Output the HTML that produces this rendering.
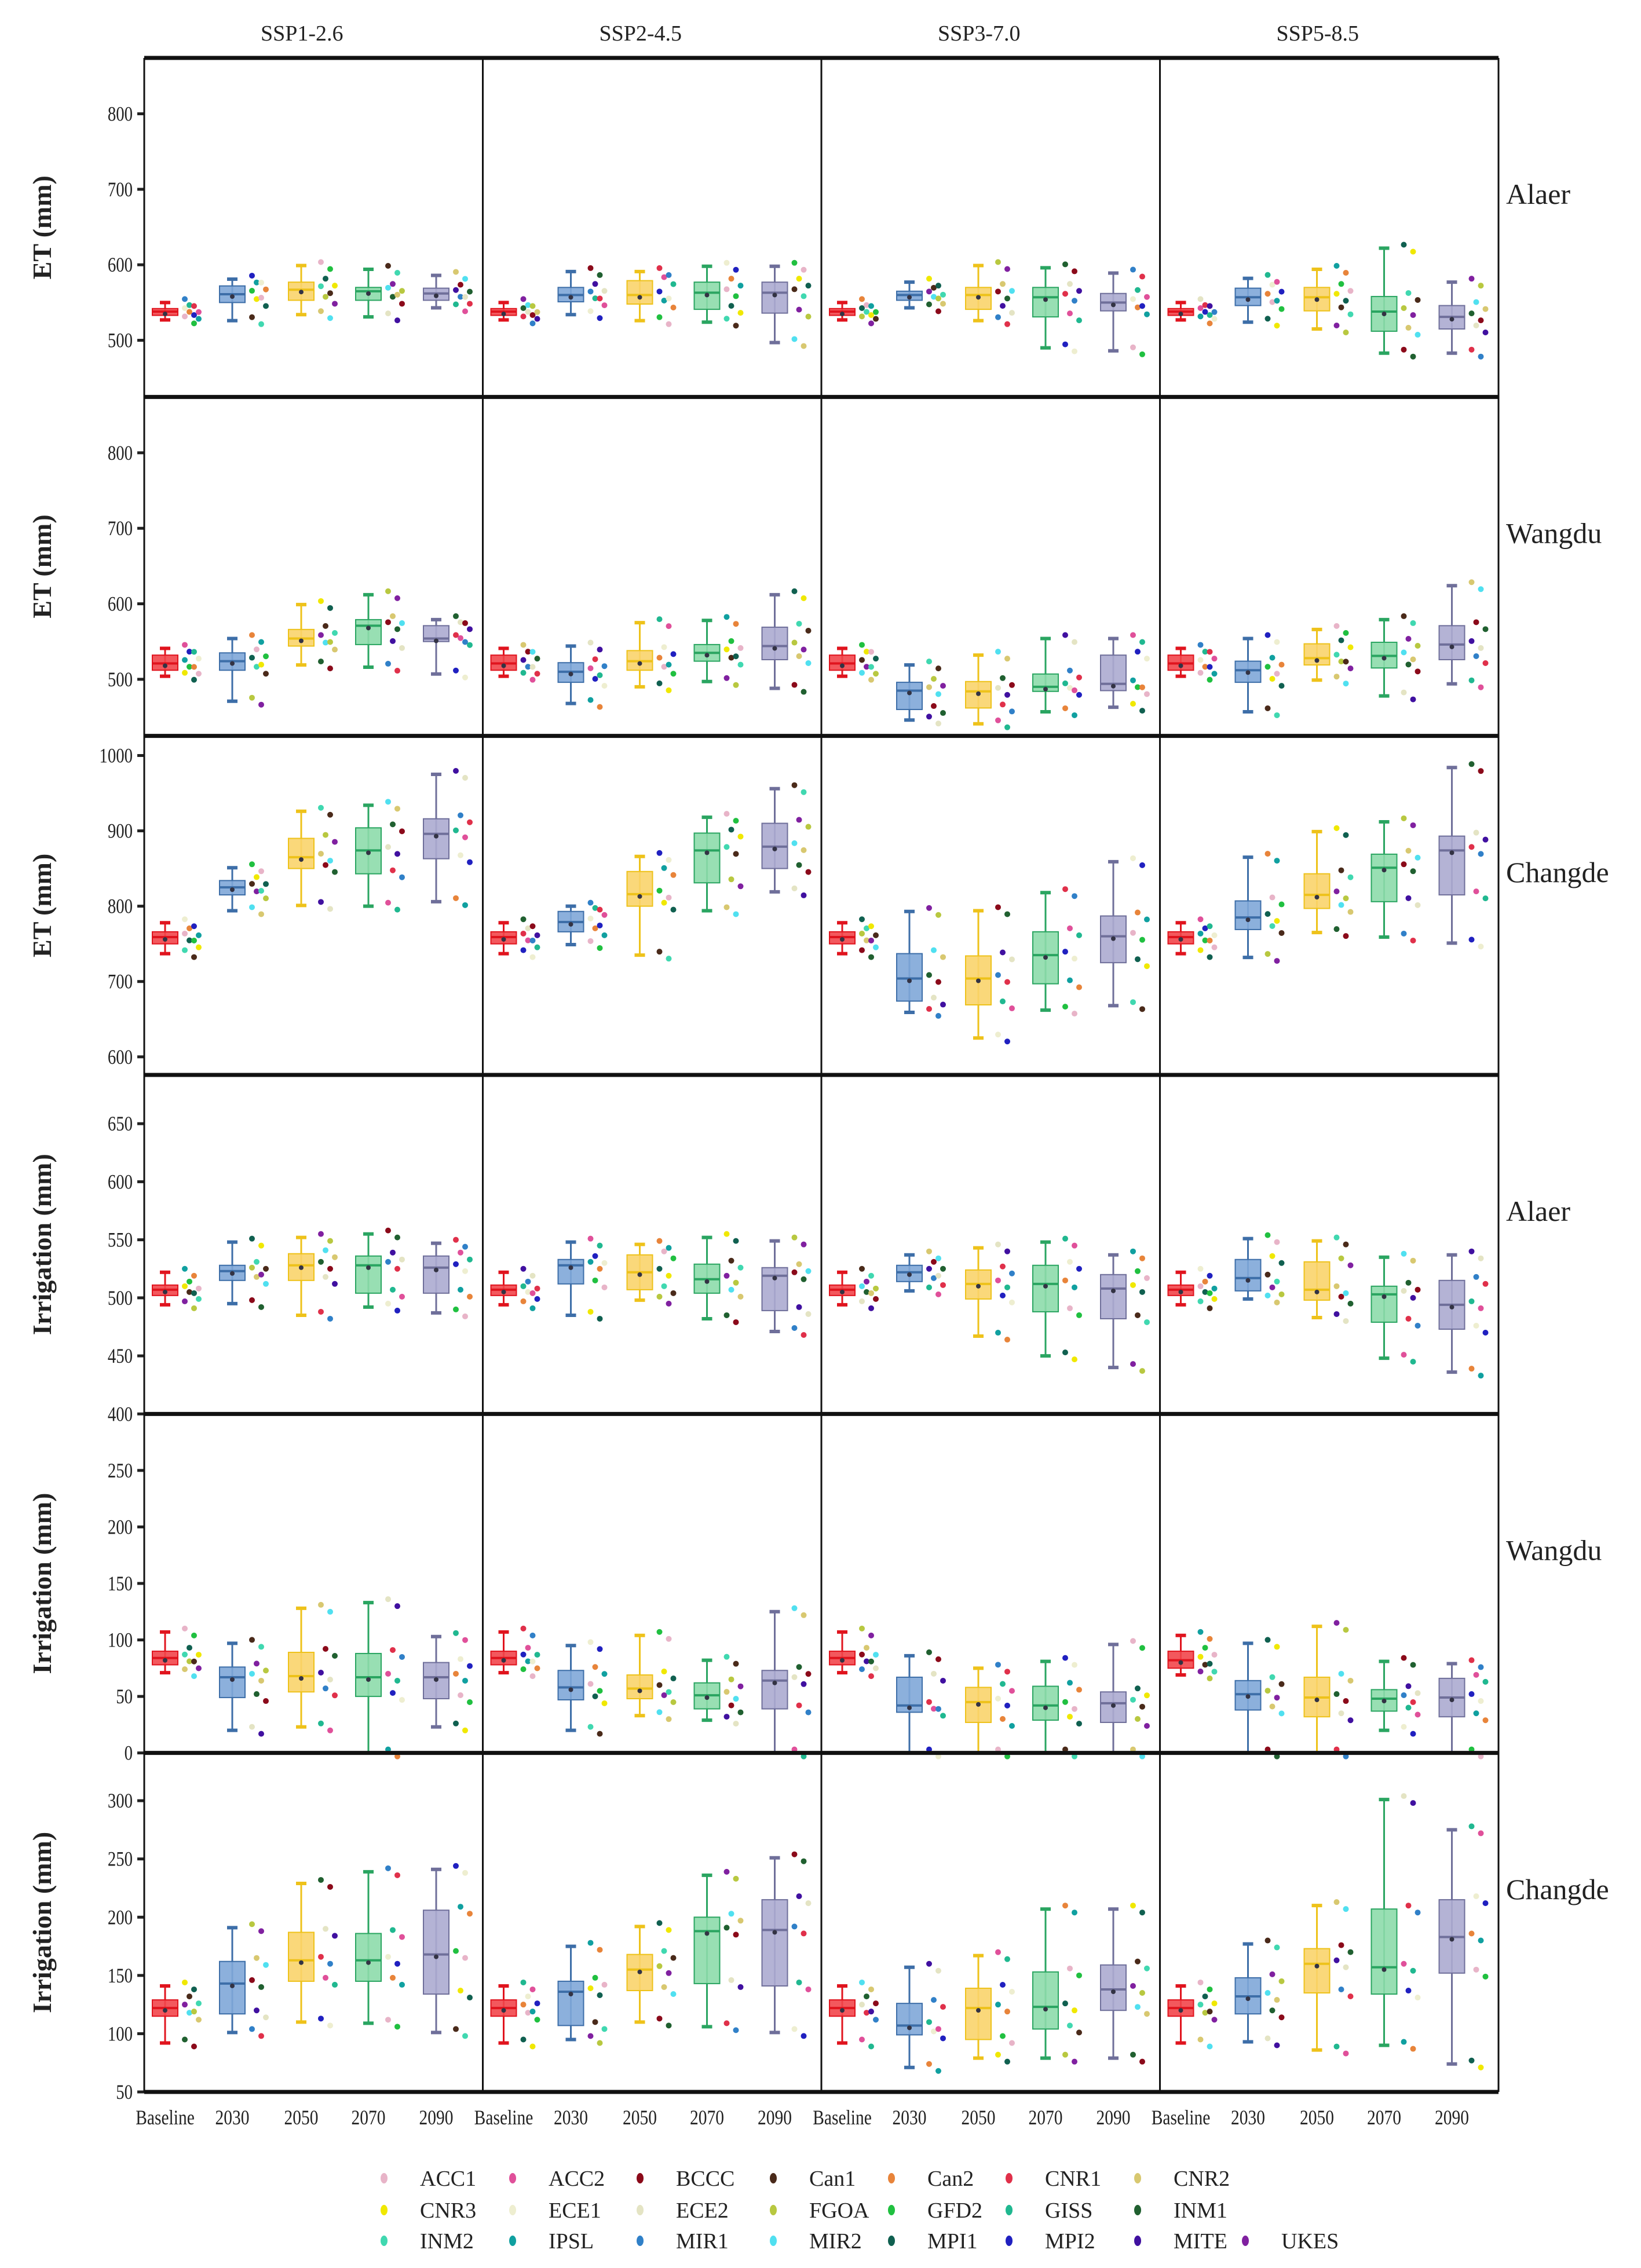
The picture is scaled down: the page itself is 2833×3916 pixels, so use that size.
<!DOCTYPE html>
<html><head><meta charset="utf-8"><style>
html,body{margin:0;padding:0;background:#fff;}
svg{display:block;}
text{font-family:"Liberation Serif",serif;fill:#222;}
</style></head><body>
<svg id="chart" width="2833" height="3916" viewBox="0 0 2833 3916" xmlns="http://www.w3.org/2000/svg"></svg>
<script>
const scenarios = ["SSP1-2.6","SSP2-4.5","SSP3-7.0","SSP5-8.5"];
const periods = ["Baseline","2030","2050","2070","2090"];
const rowSites = ["Alaer","Wangdu","Changde","Alaer","Wangdu","Changde"];
const rowTitles = ["ET (mm)","ET (mm)","ET (mm)","Irrigation (mm)","Irrigation (mm)","Irrigation (mm)"];
const rowRanges = [[425,874],[425,874],[576,1026],[400,692],[0,300],[50,341]];
const rowTicks = [[500,600,700,800],[500,600,700,800],[600,700,800,900,1000],[400,450,500,550,600,650],[0,50,100,150,200,250],[50,100,150,200,250,300]];
const models = ["ACC1","ACC2","BCCC","Can1","Can2","CNR1","CNR2","CNR3","ECE1","ECE2","FGOA","GFD2","GISS","INM1","INM2","IPSL","MIR1","MIR2","MPI1","MPI2","MITE","UKES"];
const modelColors = ["#e8b4c8","#e0509a","#8b0a1a","#4a2a1a","#e8843a","#e0304a","#d8c870","#f0e800","#eeeed0","#e4e4c4","#b8c840","#20c040","#20b890","#206030","#40d8b0","#10a0a0","#3080c8","#50e0f0","#106050","#2020c0","#4010a0","#8020a0"];
// stats: [low whisker, q1, median, q3, high whisker]
const etAlaer = [
 [[527,533,538,542,550],[526,550,561,572,581],[534,553,567,577,599],[531,553,565,570,594],[543,553,562,569,586]],
 [[527,533,538,542,550],[534,551,560,570,591],[526,548,560,579,591],[524,541,563,577,598],[497,536,563,577,598]],
 [[527,533,538,542,550],[543,553,560,565,577],[526,541,560,570,599],[490,531,557,570,596],[486,539,550,562,589]],
 [[527,533,538,542,550],[524,546,557,569,582],[515,539,557,570,594],[483,512,538,558,622],[483,515,531,546,577]]];
const etWangdu = [
 [[504,512,521,532,541],[471,512,524,535,554],[519,544,554,566,599],[516,546,571,579,612],[507,550,554,571,579]],
 [[504,512,521,532,541],[468,496,510,522,544],[490,512,524,538,575],[497,524,535,546,578],[488,526,544,569,612]],
 [[504,512,521,532,541],[446,460,485,496,519],[441,462,484,497,532],[457,484,490,507,554],[463,485,494,532,554]],
 [[504,512,521,532,541],[457,496,512,524,554],[499,519,528,547,566],[478,515,531,549,579],[494,526,546,571,624]]];
const etChangde = [
 [[737,750,759,766,778],[794,815,825,834,851],[801,850,865,890,926],[800,843,874,904,934],[806,863,896,916,975]],
 [[737,750,759,766,778],[749,766,779,793,800],[735,800,816,846,866],[794,831,874,897,918],[819,850,879,910,956]],
 [[737,750,759,766,778],[659,674,704,737,793],[625,669,704,734,794],[662,697,735,766,818],[668,725,760,787,859]],
 [[737,750,759,766,778],[732,769,785,807,865],[765,797,815,843,899],[759,806,851,869,912],[751,815,874,893,984]]];
const irAlaer = [
 [[494,502,507,511,522],[495,515,523,528,548],[485,515,528,538,552],[492,504,528,536,555],[487,504,526,536,547]],
 [[494,502,507,511,522],[485,512,528,533,548],[498,507,522,537,546],[482,504,516,529,552],[471,489,519,526,549]],
 [[494,502,507,511,522],[506,514,522,528,537],[467,499,512,524,543],[450,488,512,528,548],[440,482,508,520,537]],
 [[494,502,507,511,522],[499,506,517,533,551],[483,498,507,531,549],[448,479,503,510,535],[436,473,494,515,537]]];
const irWangdu = [
 [[71,78,84,90,107],[20,49,67,76,97],[23,54,68,89,128],[0,50,67,88,133],[23,48,67,80,103]],
 [[71,78,84,90,107],[20,47,58,73,95],[33,48,57,69,104],[29,39,51,62,82],[0,39,64,73,125]],
 [[71,78,84,90,107],[0,36,42,67,86],[0,27,45,58,75],[0,29,42,59,81],[0,27,44,54,96]],
 [[69,75,82,90,104],[0,38,52,64,97],[0,32,49,67,112],[20,37,48,56,81],[0,32,49,66,79]]];
const irChangde = [
 [[92,115,122,129,141],[101,117,143,162,191],[110,145,163,187,229],[109,145,163,186,239],[101,134,168,206,241]],
 [[92,115,122,129,141],[95,107,136,145,175],[110,137,155,168,192],[106,143,188,200,236],[101,141,189,215,251]],
 [[92,115,122,129,141],[71,99,107,126,157],[79,95,122,139,167],[79,104,123,153,207],[79,120,138,159,207]],
 [[92,115,122,129,141],[93,117,132,148,177],[86,135,160,173,210],[90,134,157,207,301],[74,152,183,215,275]]];
const rowData = [etAlaer, etWangdu, etChangde, irAlaer, irWangdu, irChangde];

const periodFill = ["#f2464b","#7fa7d8","#f9d46b","#8ddcab","#acabd0"];
const periodLine = ["#e0141e","#3d6ea8","#eec21a","#2aa561","#6f6f9a"];

const NS = "http://www.w3.org/2000/svg";
const svg = document.getElementById("chart");
function el(tag, attrs, parent){ const e=document.createElementNS(NS,tag); for(const k in attrs) e.setAttribute(k,attrs[k]); (parent||svg).appendChild(e); return e; }

const L = 249, R = 2587, T = 100, B = 3612;
const colW = (R - L) / 4, rowH = (B - T) / 6;
const boxOff = [36,152,271,387,504];
const boxW = 44;
function yScale(r, v){ const [lo,hi]=rowRanges[r]; const top=T+r*rowH; return top + (hi - v)/(hi - lo)*rowH; }
function xCenter(c, p){ return L + c*colW + boxOff[p]; }

// column titles
scenarios.forEach((s,c)=>{
  const t = el("text",{x:L+c*colW+colW/2-20,y:70,"font-size":38,"text-anchor":"middle"});
  t.textContent = s;
  
  
});

for(let r=0;r<6;r++){
  const top = T + r*rowH;
  const g = el("g",{});
  
  
  // y ticks
  rowTicks[r].forEach(v=>{
    const y = yScale(r,v);
    el("line",{x1:L-12,x2:L,y1:y,y2:y,stroke:"#222","stroke-width":5},g);
    const t = el("text",{x:L-20,y:y+12,"font-size":36,"text-anchor":"end",transform:`translate(${L-20},0) scale(0.8,1) translate(${-(L-20)},0)`},g);
    t.textContent = v;
    
    
  });
  // y title
  const yt = el("text",{x:0,y:0,"font-size":46,"font-weight":"bold","text-anchor":"middle",transform:`translate(88,${top+rowH/2}) rotate(-90)`},g);
  yt.textContent = rowTitles[r];
  
  
  // site label
  const sl = el("text",{x:2600,y:top+rowH*0.4+18,"font-size":50,"font-family":rowSites[r]==="Alaer"?"Liberation Mono":"Liberation Serif"},g);
  sl.textContent = rowSites[r];
  
  

  for(let c=0;c<4;c++){
    for(let p=0;p<5;p++){
      const s = rowData[r][c][p];
      const cx = xCenter(c,p);
      const bg = el("g",{},g);
      
      
      const yLo=yScale(r,s[0]), yQ1=yScale(r,s[1]), yMed=yScale(r,s[2]), yQ3=yScale(r,s[3]), yHi=yScale(r,s[4]);
      el("line",{x1:cx,x2:cx,y1:yHi,y2:yLo,stroke:periodLine[p],"stroke-width":3},bg);
      el("line",{x1:cx-9,x2:cx+9,y1:yHi,y2:yHi,stroke:periodLine[p],"stroke-width":6},bg);
      el("line",{x1:cx-9,x2:cx+9,y1:yLo,y2:yLo,stroke:periodLine[p],"stroke-width":6},bg);
      el("rect",{x:cx-boxW/2,y:yQ3,width:boxW,height:Math.max(1,yQ1-yQ3),fill:periodFill[p],stroke:periodLine[p],"stroke-width":2,"fill-opacity":0.9},bg);
      el("line",{x1:cx-boxW/2,x2:cx+boxW/2,y1:yMed,y2:yMed,stroke:periodLine[p],"stroke-width":4},bg);
      el("circle",{cx:cx,cy:yMed+4,r:4,fill:"#334"},bg);
      // model points placed at the box statistic values
      for(let k=0;k<5;k++){
        for(let j=0;j<2;j++){
          const ci = (r*7 + c*5 + p*3 + k*4 + j*11) % 22;
          const dot = el("circle",{cx:cx+34+j*16+(k%2)*8,cy:yScale(r,s[k])+(j?6:-6),r:5,fill:modelColors[ci]},bg);
          
          
        }
      }
    }
  }
}

// frame lines
for(let c=0;c<=4;c++){
  const l = el("line",{x1:L+c*colW,x2:L+c*colW,y1:T,y2:B,stroke:"#111","stroke-width":3});
  
  
}
for(let r=0;r<=6;r++){
  const l = el("line",{x1:L,x2:R,y1:T+r*rowH,y2:T+r*rowH,stroke:"#111","stroke-width":7});
  
  
}

// x labels
for(let c=0;c<4;c++){
  periods.forEach((p,i)=>{
    const x = xCenter(c,i);
    const t = el("text",{x:x,y:3668,"font-size":36,"text-anchor":"middle",transform:`translate(${x},0) scale(0.82,1) translate(${-x},0)`});
    t.textContent = p;
    
    
  });
}

// legend
const legX = [663,885,1105,1335,1539,1742,1964,2150];
const legY = [3761,3816,3869];
const legRows = [7,7,8];
let mi = 0;
legRows.forEach((n,row)=>{
  for(let i=0;i<n;i++){
    const g = el("g",{});
    
    
    el("ellipse",{cx:legX[i],cy:legY[row],rx:6,ry:9,fill:modelColors[mi]},g);
    const t = el("text",{x:legX[i]+62,y:legY[row]+13,"font-size":38},g);
    t.textContent = models[mi];
    mi++;
  }
});
</script>
</body></html>
